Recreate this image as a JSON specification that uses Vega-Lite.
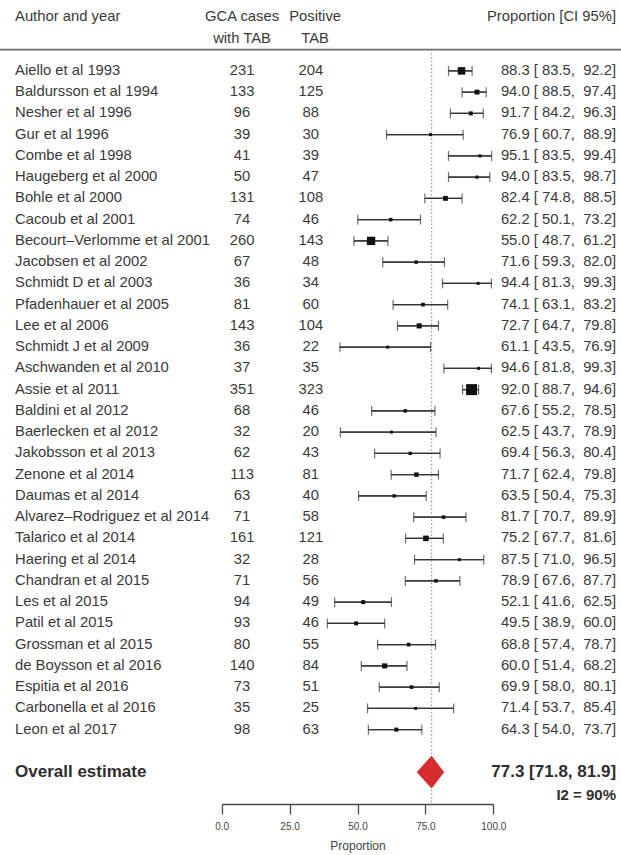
{
  "$schema": "https://vega.github.io/schema/vega-lite/v6.json",
  "width": 621,
  "height": 765,
  "autosize": {"type": "none"},
  "padding": {"top": 39, "left": 0, "right": 0, "bottom": 51},
  "background": "white",
  "config": {
    "view": {"stroke": null},
    "font": "Liberation Sans",
    "text": {"font": "Liberation Sans", "color": "#3a3a3a", "fontSize": 14.8},
    "axisX": {
      "grid": false,
      "domainColor": "#4a4a4a",
      "domainWidth": 1.3,
      "tickColor": "#4a4a4a",
      "tickWidth": 1.3,
      "tickSize": 10,
      "labelFontSize": 10,
      "labelColor": "#444444",
      "labelPadding": 7,
      "labelFlush": false,
      "labelOverlap": false,
      "titleFontSize": 12,
      "titleFontWeight": "normal",
      "titleColor": "#444444",
      "titlePadding": 9
    }
  },
  "datasets": {
    "studies": [
      {"author": "Aiello et al 1993", "cases": 231, "positive": 204, "prop": 88.3, "lo": 83.5, "hi": 92.2},
      {"author": "Baldursson et al 1994", "cases": 133, "positive": 125, "prop": 94.0, "lo": 88.5, "hi": 97.4},
      {"author": "Nesher et al 1996", "cases": 96, "positive": 88, "prop": 91.7, "lo": 84.2, "hi": 96.3},
      {"author": "Gur et al 1996", "cases": 39, "positive": 30, "prop": 76.9, "lo": 60.7, "hi": 88.9},
      {"author": "Combe et al 1998", "cases": 41, "positive": 39, "prop": 95.1, "lo": 83.5, "hi": 99.4},
      {"author": "Haugeberg et al 2000", "cases": 50, "positive": 47, "prop": 94.0, "lo": 83.5, "hi": 98.7},
      {"author": "Bohle et al 2000", "cases": 131, "positive": 108, "prop": 82.4, "lo": 74.8, "hi": 88.5},
      {"author": "Cacoub et al 2001", "cases": 74, "positive": 46, "prop": 62.2, "lo": 50.1, "hi": 73.2},
      {"author": "Becourt–Verlomme et al 2001", "cases": 260, "positive": 143, "prop": 55.0, "lo": 48.7, "hi": 61.2},
      {"author": "Jacobsen et al 2002", "cases": 67, "positive": 48, "prop": 71.6, "lo": 59.3, "hi": 82.0},
      {"author": "Schmidt D et al 2003", "cases": 36, "positive": 34, "prop": 94.4, "lo": 81.3, "hi": 99.3},
      {"author": "Pfadenhauer et al 2005", "cases": 81, "positive": 60, "prop": 74.1, "lo": 63.1, "hi": 83.2},
      {"author": "Lee et al 2006", "cases": 143, "positive": 104, "prop": 72.7, "lo": 64.7, "hi": 79.8},
      {"author": "Schmidt J et al 2009", "cases": 36, "positive": 22, "prop": 61.1, "lo": 43.5, "hi": 76.9},
      {"author": "Aschwanden et al 2010", "cases": 37, "positive": 35, "prop": 94.6, "lo": 81.8, "hi": 99.3},
      {"author": "Assie et al 2011", "cases": 351, "positive": 323, "prop": 92.0, "lo": 88.7, "hi": 94.6},
      {"author": "Baldini et al 2012", "cases": 68, "positive": 46, "prop": 67.6, "lo": 55.2, "hi": 78.5},
      {"author": "Baerlecken et al 2012", "cases": 32, "positive": 20, "prop": 62.5, "lo": 43.7, "hi": 78.9},
      {"author": "Jakobsson et al 2013", "cases": 62, "positive": 43, "prop": 69.4, "lo": 56.3, "hi": 80.4},
      {"author": "Zenone et al 2014", "cases": 113, "positive": 81, "prop": 71.7, "lo": 62.4, "hi": 79.8},
      {"author": "Daumas et al 2014", "cases": 63, "positive": 40, "prop": 63.5, "lo": 50.4, "hi": 75.3},
      {"author": "Alvarez–Rodriguez et al 2014", "cases": 71, "positive": 58, "prop": 81.7, "lo": 70.7, "hi": 89.9},
      {"author": "Talarico et al 2014", "cases": 161, "positive": 121, "prop": 75.2, "lo": 67.7, "hi": 81.6},
      {"author": "Haering et al 2014", "cases": 32, "positive": 28, "prop": 87.5, "lo": 71.0, "hi": 96.5},
      {"author": "Chandran et al 2015", "cases": 71, "positive": 56, "prop": 78.9, "lo": 67.6, "hi": 87.7},
      {"author": "Les et al 2015", "cases": 94, "positive": 49, "prop": 52.1, "lo": 41.6, "hi": 62.5},
      {"author": "Patil et al 2015", "cases": 93, "positive": 46, "prop": 49.5, "lo": 38.9, "hi": 60.0},
      {"author": "Grossman et al 2015", "cases": 80, "positive": 55, "prop": 68.8, "lo": 57.4, "hi": 78.7},
      {"author": "de Boysson et al 2016", "cases": 140, "positive": 84, "prop": 60.0, "lo": 51.4, "hi": 68.2},
      {"author": "Espitia et al 2016", "cases": 73, "positive": 51, "prop": 69.9, "lo": 58.0, "hi": 80.1},
      {"author": "Carbonella et al 2016", "cases": 35, "positive": 25, "prop": 71.4, "lo": 53.7, "hi": 85.4},
      {"author": "Leon et al 2017", "cases": 98, "positive": 63, "prop": 64.3, "lo": 54.0, "hi": 73.7}
    ],
    "overall": [
      {"author": "Overall estimate", "prop": 77.3, "lo": 71.8, "hi": 81.9, "i2": 90}
    ],
    "header": [
      {"author": "Author and year", "cases": "GCA cases\nwith TAB", "positive": "Positive\nTAB", "ci": "Proportion [CI 95%]"}
    ]
  },
  "encoding": {
    "y": {
      "field": "author",
      "type": "nominal",
      "axis": null,
      "scale": {
        "type": "point",
        "domain": [
          "header",
          "Aiello et al 1993", "Baldursson et al 1994", "Nesher et al 1996", "Gur et al 1996",
          "Combe et al 1998", "Haugeberg et al 2000", "Bohle et al 2000", "Cacoub et al 2001",
          "Becourt–Verlomme et al 2001", "Jacobsen et al 2002", "Schmidt D et al 2003",
          "Pfadenhauer et al 2005", "Lee et al 2006", "Schmidt J et al 2009", "Aschwanden et al 2010",
          "Assie et al 2011", "Baldini et al 2012", "Baerlecken et al 2012", "Jakobsson et al 2013",
          "Zenone et al 2014", "Daumas et al 2014", "Alvarez–Rodriguez et al 2014", "Talarico et al 2014",
          "Haering et al 2014", "Chandran et al 2015", "Les et al 2015", "Patil et al 2015",
          "Grossman et al 2015", "de Boysson et al 2016", "Espitia et al 2016", "Carbonella et al 2016",
          "Leon et al 2017",
          "spacer", "Overall estimate", "heterogeneity"
        ],
        "padding": 0.5
      }
    }
  },
  "layer": [
    {
      "data": {"name": "header"},
      "mark": {"type": "rule", "color": "#6e6e6e", "strokeWidth": 1.6},
      "encoding": {"y": {"datum": "header", "type": "nominal", "axis": null}}
    },
    {
      "data": {"name": "studies"},
      "mark": {"type": "rule", "color": "#333333", "strokeWidth": 1.2},
      "encoding": {
        "x": {
          "field": "lo",
          "type": "quantitative",
          "scale": {"domain": [0, 100], "range": [221.7, 493.3], "nice": false, "zero": false},
          "axis": {"orient": "bottom", "values": [0, 25, 50, 75, 100], "format": ".1f", "title": "Proportion"}
        },
        "x2": {"field": "hi"}
      }
    },
    {
      "data": {"name": "overall"},
      "mark": {"type": "rule", "color": "#8a8a8a", "strokeWidth": 1.1, "strokeDash": [1.5, 2.2], "y2Offset": 10.6},
      "encoding": {
        "x": {"field": "prop", "type": "quantitative"},
        "y": {"datum": "header", "type": "nominal", "axis": null},
        "y2": {"datum": "heterogeneity"}
      }
    },
    {
      "data": {"name": "studies"},
      "mark": {"type": "rule", "color": "#333333", "strokeWidth": 1.2},
      "encoding": {
        "x": {"field": "lo", "type": "quantitative"},
        "x2": {"field": "hi"}
      }
    },
    {
      "data": {"name": "studies"},
      "transform": [{"fold": ["lo", "hi"], "as": ["end", "value"]}],
      "mark": {"type": "tick", "color": "#333333", "size": 10, "thickness": 1.2},
      "encoding": {
        "x": {"field": "value", "type": "quantitative"}
      }
    },
    {
      "data": {"name": "studies"},
      "mark": {"type": "point", "shape": "square", "filled": true, "color": "#111111", "opacity": 1},
      "encoding": {
        "x": {"field": "prop", "type": "quantitative"},
        "size": {
          "field": "cases",
          "type": "quantitative",
          "legend": null,
          "scale": {"type": "pow", "exponent": 2, "domain": [39, 351], "range": [9, 121], "zero": false}
        }
      }
    },
    {
      "data": {"name": "overall"},
      "mark": {
        "type": "point",
        "shape": "M -1 0 L 0 -1.104 L 0.836 0 L 0 1.104 Z",
        "size": 893,
        "filled": true,
        "color": "#d62b2f",
        "opacity": 1
      },
      "encoding": {
        "x": {"field": "prop", "type": "quantitative"}
      }
    },
    {
      "data": {"name": "studies"},
      "transform": [
        {
          "calculate": "format(datum.prop, '.1f') + ' [\u00a0' + format(datum.lo, '.1f') + ',\u00a0\u00a0' + format(datum.hi, '.1f') + ']'",
          "as": "ci"
        }
      ],
      "layer": [
        {
          "mark": {"type": "text", "align": "left", "baseline": "middle"},
          "encoding": {
            "x": {"datum": -76.1, "type": "quantitative"},
            "text": {"field": "author", "type": "nominal"}
          }
        },
        {
          "mark": {"type": "text", "align": "center", "baseline": "middle"},
          "encoding": {
            "x": {"datum": 7.5, "type": "quantitative"},
            "text": {"field": "cases", "type": "nominal"}
          }
        },
        {
          "mark": {"type": "text", "align": "center", "baseline": "middle"},
          "encoding": {
            "x": {"datum": 32.8, "type": "quantitative"},
            "text": {"field": "positive", "type": "nominal"}
          }
        },
        {
          "mark": {"type": "text", "align": "right", "baseline": "middle"},
          "encoding": {
            "x": {"datum": 145.2, "type": "quantitative"},
            "text": {"field": "ci", "type": "nominal"}
          }
        }
      ]
    },
    {
      "data": {"name": "header"},
      "encoding": {"y": {"datum": "header", "type": "nominal", "axis": null}},
      "layer": [
        {
          "mark": {"type": "text", "align": "left", "baseline": "alphabetic", "dy": -29, "lineBreak": "\n", "lineHeight": 22.7},
          "encoding": {
            "x": {"datum": -76.1, "type": "quantitative"},
            "text": {"field": "author", "type": "nominal"}
          }
        },
        {
          "mark": {"type": "text", "align": "center", "baseline": "alphabetic", "dy": -29, "lineBreak": "\n", "lineHeight": 22.7},
          "encoding": {
            "x": {"datum": 7.5, "type": "quantitative"},
            "text": {"field": "cases", "type": "nominal"}
          }
        },
        {
          "mark": {"type": "text", "align": "center", "baseline": "alphabetic", "dy": -29, "lineBreak": "\n", "lineHeight": 22.7},
          "encoding": {
            "x": {"datum": 34.4, "type": "quantitative"},
            "text": {"field": "positive", "type": "nominal"}
          }
        },
        {
          "mark": {"type": "text", "align": "right", "baseline": "alphabetic", "dy": -29, "lineBreak": "\n", "lineHeight": 22.7},
          "encoding": {
            "x": {"datum": 145.2, "type": "quantitative"},
            "text": {"field": "ci", "type": "nominal"}
          }
        }
      ]
    },
    {
      "data": {"name": "overall"},
      "transform": [
        {"calculate": "format(datum.prop, '.1f') + ' [' + format(datum.lo, '.1f') + ', ' + format(datum.hi, '.1f') + ']'", "as": "ci"},
        {"calculate": "'I2 = ' + datum.i2 + '%'", "as": "het"}
      ],
      "layer": [
        {
          "mark": {"type": "text", "align": "left", "baseline": "middle", "fontWeight": "bold", "fontSize": 17, "color": "#2e2e2e"},
          "encoding": {
            "x": {"datum": -76.1, "type": "quantitative"},
            "text": {"field": "author", "type": "nominal"}
          }
        },
        {
          "mark": {"type": "text", "align": "right", "baseline": "middle", "fontWeight": "bold", "fontSize": 17, "color": "#2e2e2e"},
          "encoding": {
            "x": {"datum": 145.2, "type": "quantitative"},
            "text": {"field": "ci", "type": "nominal"}
          }
        },
        {
          "mark": {"type": "text", "align": "right", "baseline": "middle", "fontWeight": "bold", "fontSize": 15, "dy": 2, "color": "#2e2e2e"},
          "encoding": {
            "x": {"datum": 145.2, "type": "quantitative"},
            "y": {"datum": "heterogeneity", "type": "nominal", "axis": null},
            "text": {"field": "het", "type": "nominal"}
          }
        }
      ]
    }
  ]
}
